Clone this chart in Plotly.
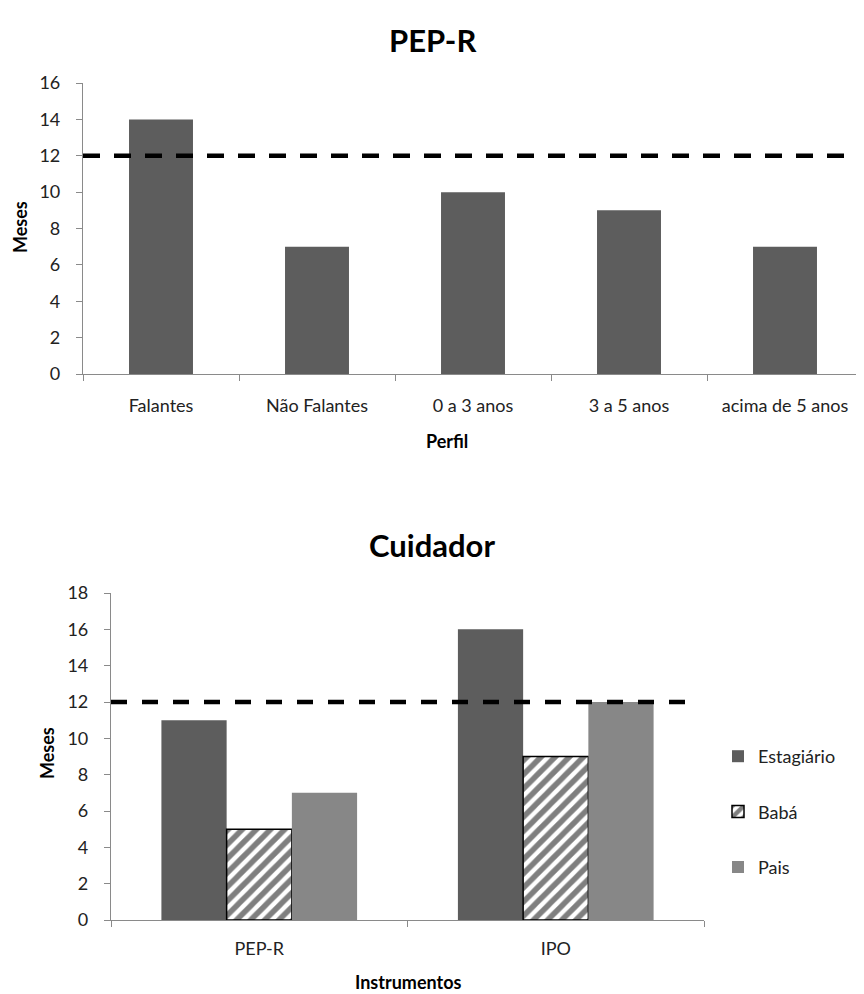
import plotly.graph_objects as go

# ---- data ----
perfil_categories = ["Falantes", "Não Falantes", "0 a 3 anos", "3 a 5 anos", "acima de 5 anos"]
perfil_values = [14, 7, 10, 9, 7]

instrumentos = ["PEP-R", "IPO"]
estagiario_values = [11, 16]
baba_values = [5, 9]
pais_values = [7, 12]

threshold = 12
top_yticks = [0, 2, 4, 6, 8, 10, 12, 14, 16]
bottom_yticks = [0, 2, 4, 6, 8, 10, 12, 14, 16, 18]

FONT = "Lato"
W, H = 864, 994
OX, OY = 8, 8  # page offset compensation


def px(x):
    return (x - OX) / W


def py(y):
    return 1 - (y - OY) / H


fig = go.Figure()

# top chart
fig.add_trace(go.Bar(
    x=perfil_categories, y=perfil_values, xaxis="x", yaxis="y",
    marker=dict(color="#5d5d5d", line=dict(width=0)),
    showlegend=False, width=0.41,
))

# bottom chart
fig.add_trace(go.Bar(
    x=instrumentos, y=estagiario_values, name="Estagiário", xaxis="x2", yaxis="y2",
    marker=dict(color="#5d5d5d", line=dict(width=0)), legendgroup="a",
))
fig.add_trace(go.Bar(
    x=instrumentos, y=baba_values, name="Babá", xaxis="x2", yaxis="y2",
    marker=dict(color="white", line=dict(color="black", width=1.5),
                pattern=dict(shape="/", fgcolor="black", bgcolor="white", size=10, solidity=0.55)),
    legendgroup="b",
))
fig.add_trace(go.Bar(
    x=instrumentos, y=pais_values, name="Pais", xaxis="x2", yaxis="y2",
    marker=dict(color="#878787", line=dict(width=0)), legendgroup="c",
))

axis_common = dict(
    showline=True, linecolor="#8a8a8a", linewidth=1.2,
    ticks="outside", ticklen=6, tickcolor="#8a8a8a",
    showgrid=False, zeroline=False,
    tickfont=dict(family=FONT, size=18, color="#222"),
    automargin=False,
)


def label(text, x, y, size=18, angle=0):
    return dict(text=text, x=px(x), y=py(y), xref="paper", yref="paper",
                xanchor="center", yanchor="middle", textangle=angle,
                showarrow=False, font=dict(family=FONT, size=size, color="black"))


fig.update_layout(
    width=W, height=H,
    margin=dict(l=0, r=0, t=0, b=0),
    paper_bgcolor="white", plot_bgcolor="white",
    barmode="group", bargap=0.34, bargroupgap=0,
    font=dict(family=FONT, color="#222"),
    xaxis=dict(domain=[px(83), min(px(863), 1)], anchor="y", tickson="boundaries",
               ticklabelstandoff=15, **axis_common),
    yaxis=dict(domain=[py(374), py(83)], anchor="x", range=[0, 16],
               tickvals=top_yticks, ticklabelstandoff=12, **axis_common),
    xaxis2=dict(domain=[px(111), px(704)], anchor="y2", tickson="boundaries",
                ticklabelstandoff=12, **axis_common),
    yaxis2=dict(domain=[py(920), py(593)], anchor="x2", range=[0, 18],
                tickvals=bottom_yticks, ticklabelstandoff=12, **axis_common),
    legend=dict(x=px(718), y=py(738), xanchor="left", yanchor="top",
                font=dict(family=FONT, size=18, color="#222"),
                traceorder="grouped", tracegroupgap=29, bgcolor="rgba(0,0,0,0)"),
    shapes=[
        dict(type="line", xref="x domain", yref="y", x0=0, x1=0.99, y0=threshold, y1=threshold,
             line=dict(color="black", width=4.5, dash="17px,14px")),
        dict(type="line", xref="x2 domain", yref="y2", x0=0, x1=0.986, y0=threshold, y1=threshold,
             line=dict(color="black", width=4.5, dash="16px,15px")),
    ],
    annotations=[
        label("<b>PEP-R</b>", 432, 40, size=31),
        label("<b>Cuidador</b>", 432, 545, size=31),
        label("<b>Meses</b>", 20, 227, angle=-90),
        label("<b>Meses</b>", 47, 753, angle=-90),
        label("<b>Perfil</b>", 447, 441),
        label("<b>Instrumentos</b>", 408, 982),
    ],
)

fig.write_html("out.html")
